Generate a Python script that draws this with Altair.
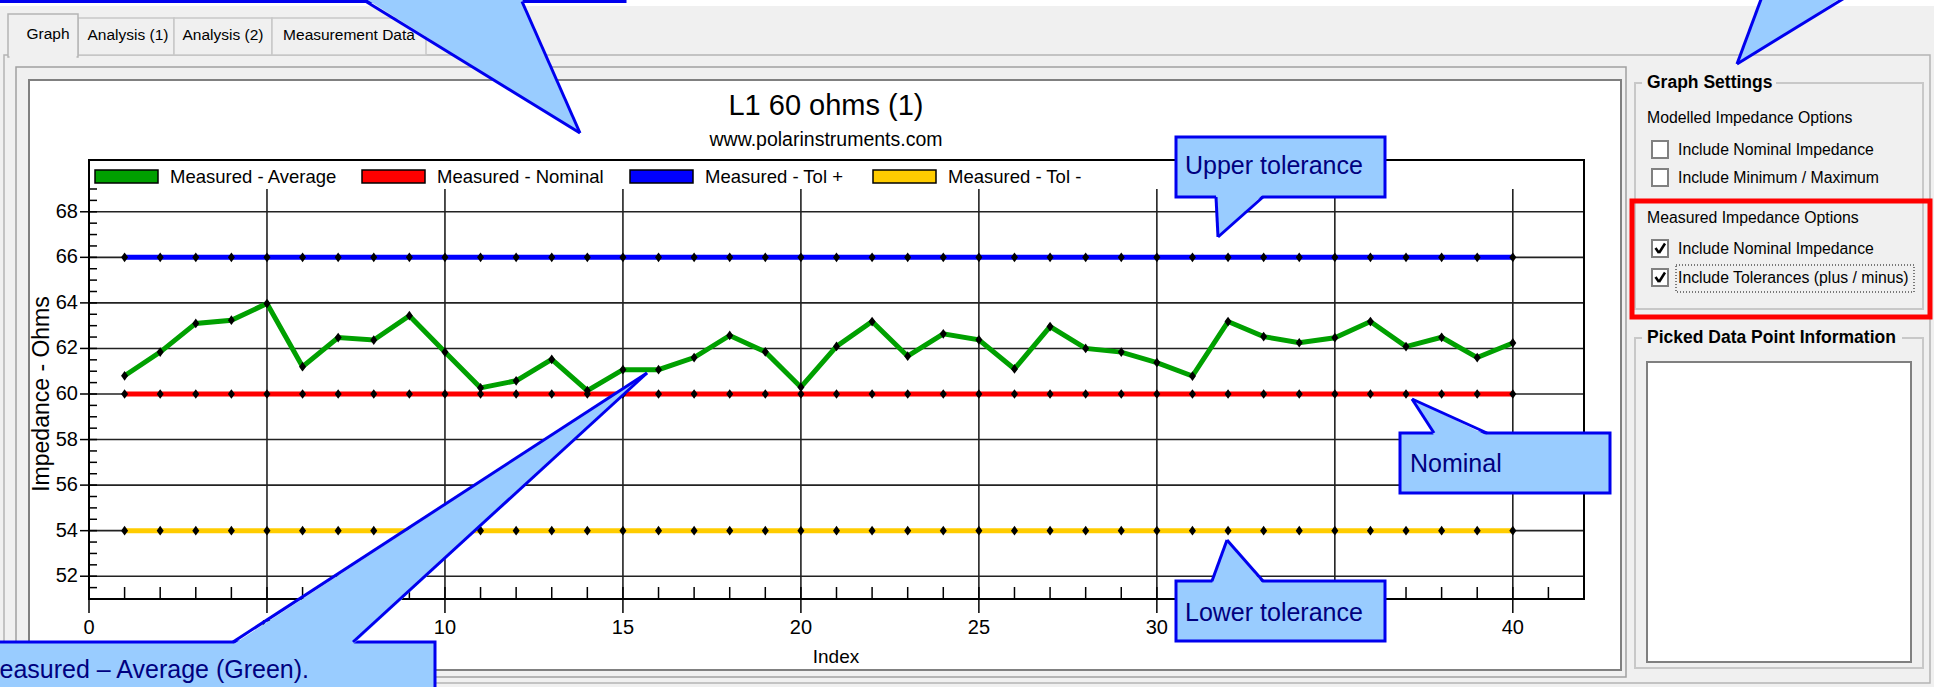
import altair as alt
import pandas as pd

# ---------------- values ----------------
index = list(range(1, 41))
measured_average = [60.80, 61.84, 63.10, 63.24, 63.97, 61.20, 62.48, 62.37, 63.44, 61.84,
                    60.27, 60.58, 61.52, 60.15, 61.07, 61.07, 61.60, 62.57, 61.85, 60.30,
                    62.09, 63.18, 61.66, 62.64, 62.38, 61.10, 62.96, 62.00, 61.84, 61.38,
                    60.79, 63.18, 62.52, 62.25, 62.47, 63.18, 62.08, 62.49, 61.60, 62.24]
measured_nominal = [60.0] * 40
measured_tol_plus = [66.0] * 40
measured_tol_minus = [54.0] * 40

series_names = ["Measured - Average", "Measured - Nominal", "Measured - Tol +", "Measured - Tol -"]
series_colors = ["#00A000", "#FF0000", "#0000FF", "#FFCC00"]
draw_order = ["Measured - Tol -", "Measured - Tol +", "Measured - Nominal", "Measured - Average"]

x_domain = [0, 42]
y_domain = [51, 69]
x_tick_values = [0, 5, 10, 15, 20, 25, 30, 35, 40]
x_minor_values = list(range(1, 42))
y_tick_values = [52, 54, 56, 58, 60, 62, 64, 66, 68]
y_minor_values = [51 + 0.5 * i for i in range(37)]

chart_title = "L1 60 ohms (1)"
chart_subtitle = "www.polarinstruments.com"
x_title = "Index"
y_title = "Impedance - Ohms"

tab_labels = ["Graph", "Analysis (1)", "Analysis (2)", "Measurement Data"]

# ---------------- layout / style ----------------
W, H = 1934, 687
PLOT_L, PLOT_R, PLOT_T, PLOT_B = 89, 1584, 189, 599
FRAME_T = 160
UI = "'Liberation Sans', Arial, sans-serif"
SANS = "'Liberation Sans', Arial, sans-serif"
BG = "#F0F0F0"
CF = "#99CCFF"   # callout fill
CB = "#0000EE"   # callout border
CT = "#000080"   # callout text

X = alt.Scale(domain=x_domain, range=[PLOT_L, PLOT_R], nice=False, zero=False)
Y = alt.Scale(domain=y_domain, range=[PLOT_B, PLOT_T], nice=False, zero=False)
COLOR = alt.Scale(domain=series_names, range=series_colors)

ONE = pd.DataFrame({"k": [0]})


def rect(x1, y1, x2, y2, fill="transparent", stroke=None, sw=1.0, dash=None):
    kw = dict(fill=fill, strokeWidth=sw)
    if stroke:
        kw["stroke"] = stroke
    if dash:
        kw["strokeDash"] = dash
    return alt.Chart(ONE).mark_rect(**kw).encode(
        x=alt.value(x1), y=alt.value(y1), x2=alt.value(x2), y2=alt.value(y2))


def seg(x1, y1, x2, y2, color, sw=1.0):
    return alt.Chart(ONE).mark_rule(color=color, strokeWidth=sw).encode(
        x=alt.value(x1), y=alt.value(y1), x2=alt.value(x2), y2=alt.value(y2))


def texts(rows, **kw):
    df = pd.DataFrame(rows, columns=["px", "py", "label"])
    return alt.Chart(df).mark_text(**kw).encode(
        x=alt.X("px:Q", scale=None, axis=None),
        y=alt.Y("py:Q", scale=None, axis=None),
        text="label:N")


def pointer(base_y, bx1, bx2, tip_x, tip_y):
    d = 1 if tip_y > base_y else -1
    df = pd.DataFrame({"py": [base_y - 2.5 * d, tip_y], "px": [bx1, tip_x], "px2": [bx2, tip_x]})
    area = alt.Chart(df).mark_area(orient="horizontal", color=CF, opacity=1).encode(
        y=alt.Y("py:Q", scale=None, axis=None),
        x=alt.X("px:Q", scale=None, axis=None),
        x2="px2:Q")
    return [area, seg(bx1, base_y, tip_x, tip_y, CB, 3), seg(bx2, base_y, tip_x, tip_y, CB, 3)]


def callout(box, ptr, label=None, lx=0, ly=0, align="left"):
    out = []
    if box:
        out.append(rect(*box, fill=CF, stroke=CB, sw=3))
    out += pointer(*ptr)
    if label:
        out.append(texts([(lx, ly, label)], font=SANS, fontSize=25, color=CT,
                         align=align, baseline="alphabetic"))
    return out


layers = []

# ---------------- window chrome ----------------
layers.append(rect(0, 0, W, 6, fill="white"))
layers.append(rect(4, 55, 1930, 683, fill=BG, stroke="#B4B4B4", sw=1.5))
layers.append(rect(78, 18, 174, 55, fill=BG, stroke="#C8C8C8", sw=1.5))
layers.append(rect(174, 18, 272, 55, fill=BG, stroke="#C8C8C8", sw=1.5))
layers.append(rect(272, 18, 426, 55, fill=BG, stroke="#C8C8C8", sw=1.5))
layers.append(rect(8, 14, 78, 57, fill=BG, stroke="#B4B4B4", sw=1.5))
layers.append(rect(9.5, 52, 76.5, 58, fill=BG))
layers.append(texts([(48, 34, tab_labels[0]), (128, 35, tab_labels[1]),
                     (223, 35, tab_labels[2]), (349, 35, tab_labels[3])],
                    font=UI, fontSize=15.5, color="black", align="center", baseline="middle"))
layers.append(rect(16, 67, 1626, 677, stroke="#A0A0A0", sw=1.5))
layers.append(rect(29, 80, 1621, 670, fill="white", stroke="#808080", sw=2))

# ---------------- chart: grid ----------------
hgrid = pd.DataFrame({"v": y_tick_values})
vgrid = pd.DataFrame({"v": [v for v in x_tick_values if v > 0]})
layers.append(alt.Chart(hgrid).mark_rule(color="#222222", strokeWidth=1.6).encode(
    y=alt.Y("v:Q", scale=Y, axis=None), x=alt.value(PLOT_L), x2=alt.value(PLOT_R)))
layers.append(alt.Chart(vgrid).mark_rule(color="#222222", strokeWidth=1.6).encode(
    x=alt.X("v:Q", scale=X, axis=None), y=alt.value(PLOT_T), y2=alt.value(PLOT_B)))

# ---------------- chart: series ----------------
values_by_series = {
    "Measured - Average": measured_average,
    "Measured - Nominal": measured_nominal,
    "Measured - Tol +": measured_tol_plus,
    "Measured - Tol -": measured_tol_minus,
}
long = pd.concat([pd.DataFrame({"index": index, "value": values_by_series[s], "series": s})
                  for s in draw_order], ignore_index=True)

for s in draw_order:
    layers.append(alt.Chart(long).transform_filter(alt.datum.series == s).mark_line(
        strokeWidth=5).encode(
        x=alt.X("index:Q", scale=X, axis=None),
        y=alt.Y("value:Q", scale=Y, axis=None),
        color=alt.Color("series:N", scale=COLOR, legend=None)))

layers.append(alt.Chart(long).mark_point(
    shape="M0,-1L0.72,0L0,1L-0.72,0Z", filled=True, color="black", opacity=1, size=95).encode(
    x=alt.X("index:Q", scale=X, axis=None),
    y=alt.Y("value:Q", scale=Y, axis=None)))

# frame
layers.append(rect(PLOT_L, FRAME_T, PLOT_R, PLOT_B, stroke="black", sw=2))

# ---------------- ticks & labels ----------------
layers.append(alt.Chart(pd.DataFrame({"v": y_minor_values})).mark_rule(color="black", strokeWidth=1.5).encode(
    y=alt.Y("v:Q", scale=Y, axis=None), x=alt.value(PLOT_L), x2=alt.value(97)))
layers.append(alt.Chart(hgrid).mark_rule(color="black", strokeWidth=1.5).encode(
    y=alt.Y("v:Q", scale=Y, axis=None), x=alt.value(80), x2=alt.value(PLOT_L)))
layers.append(alt.Chart(pd.DataFrame({"v": x_minor_values})).mark_rule(color="black", strokeWidth=1.5).encode(
    x=alt.X("v:Q", scale=X, axis=None), y=alt.value(587), y2=alt.value(PLOT_B)))
layers.append(alt.Chart(pd.DataFrame({"v": x_tick_values})).mark_rule(color="black", strokeWidth=1.5).encode(
    x=alt.X("v:Q", scale=X, axis=None), y=alt.value(PLOT_B), y2=alt.value(613)))

ylab = pd.DataFrame({"v": y_tick_values, "lab": [str(v) for v in y_tick_values]})
xlab = pd.DataFrame({"v": x_tick_values, "lab": [str(v) for v in x_tick_values]})
layers.append(alt.Chart(ylab).mark_text(font=UI, fontSize=20, align="right", baseline="middle",
                                        color="black").encode(
    y=alt.Y("v:Q", scale=Y, axis=None), x=alt.value(78), text="lab:N"))
layers.append(alt.Chart(xlab).mark_text(font=UI, fontSize=20, align="center", baseline="middle",
                                        color="black").encode(
    x=alt.X("v:Q", scale=X, axis=None), y=alt.value(628), text="lab:N"))

layers.append(texts([(836, 657, x_title)], font=UI, fontSize=19, align="center",
                    baseline="middle", color="black"))
layers.append(texts([(42, 394, y_title)], font=SANS, fontSize=23, align="center",
                    baseline="middle", angle=270, color="black"))
layers.append(texts([(826, 115, chart_title)], font=UI, fontSize=29, align="center",
                    baseline="alphabetic", color="black"))
layers.append(texts([(826, 146, chart_subtitle)], font=UI, fontSize=19.5, align="center",
                    baseline="alphabetic", color="black"))

# legend (manual, inside frame)
legend_x = [95, 362, 630, 873]
leg = pd.DataFrame({"series": series_names, "x1": legend_x, "x2": [x + 63 for x in legend_x],
                    "tx": [x + 75 for x in legend_x]})
layers.append(alt.Chart(leg).mark_rect(stroke="black", strokeWidth=1.5).encode(
    x=alt.X("x1:Q", scale=None, axis=None), x2="x2:Q",
    y=alt.value(170), y2=alt.value(183),
    color=alt.Color("series:N", scale=COLOR, legend=None)))
layers.append(alt.Chart(leg).mark_text(font=UI, fontSize=18.5, align="left", baseline="alphabetic",
                                       color="black").encode(
    x=alt.X("tx:Q", scale=None, axis=None), y=alt.value(183), text="series:N"))

# ---------------- right panel ----------------
layers.append(rect(1635, 83, 1923, 309, stroke="#C8C8C8", sw=2))
layers.append(rect(1642, 72, 1776, 94, fill=BG))
layers.append(rect(1635, 338, 1923, 668, stroke="#C8C8C8", sw=2))
layers.append(rect(1642, 326, 1902, 350, fill=BG))
layers.append(rect(1647, 362, 1911, 662, fill="white", stroke="#808080", sw=2))
layers.append(texts([(1647, 83, "Graph Settings"), (1647, 338, "Picked Data Point Information")],
                    font=UI, fontSize=17.5, fontWeight="bold", align="left", baseline="middle",
                    color="black"))
layers.append(texts([(1647, 118, "Modelled Impedance Options"),
                     (1678, 150, "Include Nominal Impedance"),
                     (1678, 178, "Include Minimum / Maximum"),
                     (1647, 218, "Measured Impedance Options"),
                     (1678, 249, "Include Nominal Impedance"),
                     (1678, 278, "Include Tolerances (plus / minus)")],
                    font=UI, fontSize=15.8, align="left", baseline="middle", color="black"))
for (cy1, cy2) in [(141, 158), (169, 186), (240, 257), (269, 286)]:
    layers.append(rect(1652, cy1, 1668, cy2, fill="white", stroke="#808080", sw=2))
for cy in [240, 269]:
    layers.append(seg(1655.5, cy + 8, 1659, cy + 13, "black", 2.5))
    layers.append(seg(1659, cy + 13, 1665, cy + 3.5, "black", 2.5))
layers.append(rect(1676, 265, 1914, 292, stroke="black", sw=1, dash=[1, 2]))
layers.append(rect(1632, 201, 1930, 317, stroke="#FF0000", sw=5))

# ---------------- callouts ----------------
layers += callout((-20, -60, 625, 1.5), (1.5, 366, 522, 580, 133))
layers += callout(None, (-6, 1763, 1851, 1737, 64))
layers += callout((-20, 642, 435, 730), (642, 233, 353, 647, 373),
                  "Measured \u2013 Average (Green).", 309, 678, align="right")
layers += callout((1176, 137, 1385, 197), (197, 1216, 1263, 1218, 237),
                  "Upper tolerance", 1185, 174)
layers += callout((1400, 433, 1610, 493), (433, 1434, 1487, 1412, 399),
                  "Nominal", 1410, 472)
layers += callout((1176, 581, 1385, 641), (581, 1212, 1263, 1227, 540),
                  "Lower tolerance", 1185, 621)

chart = alt.layer(*layers).resolve_scale(x="independent", y="independent").properties(
    width=W, height=H, autosize=alt.AutoSizeParams(type="none"), padding=0, background=BG
).configure_view(strokeWidth=0)

chart.save("out.html", embed_options={"renderer": "svg", "actions": False})
